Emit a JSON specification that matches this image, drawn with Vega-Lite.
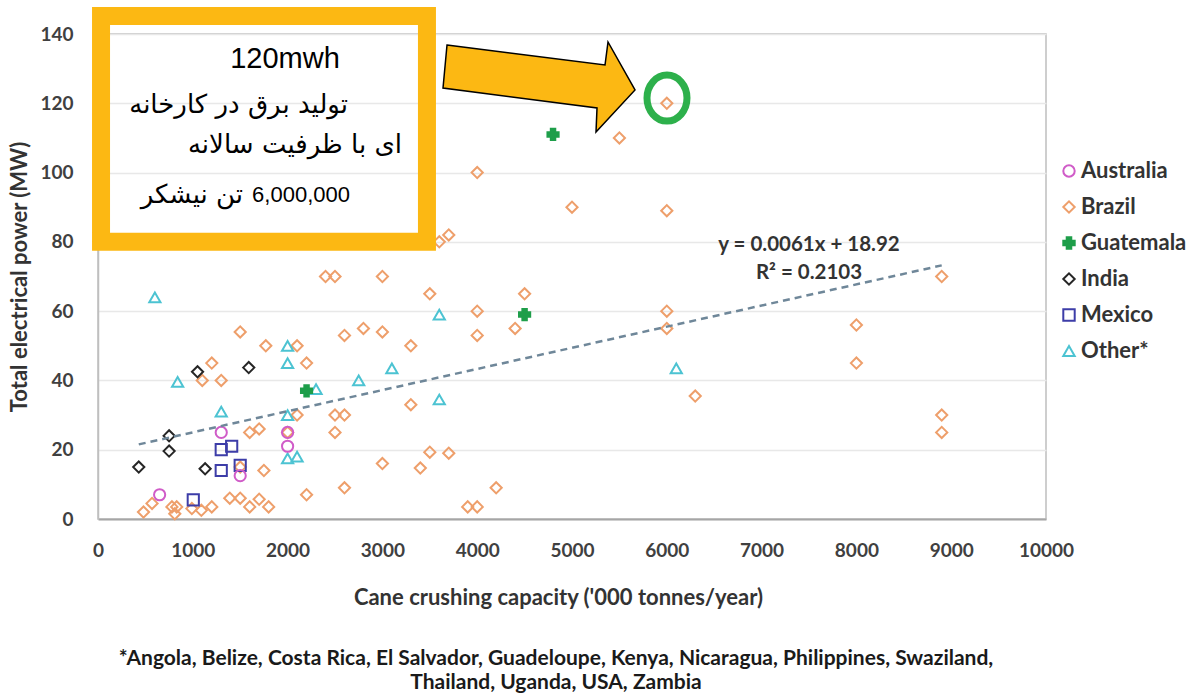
{
  "$schema": "https://vega.github.io/schema/vega-lite/v6.json",
  "width": 948,
  "height": 485,
  "autosize": {"type": "none"},
  "padding": {"left": 98, "top": 34, "right": 149, "bottom": 176},
  "background": "white",
  "title": {
    "text": ["*Angola, Belize, Costa Rica, El Salvador, Guadeloupe, Kenya, Nicaragua, Philippines, Swaziland,", "Thailand, Uganda, USA, Zambia"],
    "orient": "bottom", "anchor": "middle", "font": "Lato", "fontSize": 21, "fontWeight": "bold",
    "color": "#1a1a1a", "lineHeight": 24, "offset": 40, "dx": -16
  },
  "config": {
    "view": {"stroke": "#BFBFBF", "strokeWidth": 1.5},
    "font": "Lato",
    "legend": {
      "orient": "none", "legendX": 960, "legendY": 126, "padding": 0,
      "labelFont": "Lato", "labelFontSize": 22, "labelFontWeight": "bold", "labelColor": "#333333",
      "symbolSize": 130, "symbolStrokeWidth": 2, "rowPadding": 14, "labelOffset": 1
    }
  },
  "encoding": {
    "x": {
      "field": "capacity", "type": "quantitative",
      "scale": {"domain": [0, 10000], "nice": false, "zero": false},
      "axis": {
        "title": "Cane crushing capacity ('000 tonnes/year)",
        "values": [0, 1000, 2000, 3000, 4000, 5000, 6000, 7000, 8000, 9000, 10000],
        "format": "d",
        "grid": false, "ticks": false, "domainColor": "#A6A6A6", "domainWidth": 2,
        "labelFont": "Lato", "labelFontSize": 19, "labelFontWeight": "bold", "labelColor": "#404040",
        "labelPadding": 22, "labelFlush": false, "labelOverlap": false,
        "titleFont": "Lato", "titleFontSize": 22, "titleFontWeight": "bold", "titleColor": "#333333",
        "titlePadding": 27, "titleX": 460
      }
    },
    "y": {
      "field": "power", "type": "quantitative",
      "scale": {"domain": [0, 140], "nice": false, "zero": false},
      "axis": {
        "title": "Total electrical power (MW)",
        "values": [0, 20, 40, 60, 80, 100, 120, 140],
        "grid": true, "gridColor": "#E8E8E8", "gridWidth": 1.5, "ticks": false,
        "domainColor": "#BFBFBF", "domainWidth": 1.5,
        "labelFont": "Lato", "labelFontSize": 19, "labelFontWeight": "bold", "labelColor": "#404040",
        "labelPadding": 25,
        "titleFont": "Lato", "titleFontSize": 22, "titleFontWeight": "bold", "titleColor": "#333333",
        "titlePadding": 8
      }
    }
  },
  "layer": [
    {
      "data": {"values": [
        {"country": "Brazil", "capacity": 480, "power": 2},
        {"country": "Brazil", "capacity": 570, "power": 4.5},
        {"country": "Brazil", "capacity": 780, "power": 3.5},
        {"country": "Brazil", "capacity": 830, "power": 3.5},
        {"country": "Brazil", "capacity": 810, "power": 1.5},
        {"country": "Brazil", "capacity": 990, "power": 3},
        {"country": "Brazil", "capacity": 1090, "power": 2.5},
        {"country": "Brazil", "capacity": 1200, "power": 3.5},
        {"country": "Brazil", "capacity": 1390, "power": 6},
        {"country": "Brazil", "capacity": 1500, "power": 6},
        {"country": "Brazil", "capacity": 1600, "power": 3.5},
        {"country": "Brazil", "capacity": 1700, "power": 5.7},
        {"country": "Brazil", "capacity": 1800, "power": 3.5},
        {"country": "Brazil", "capacity": 1750, "power": 14},
        {"country": "Brazil", "capacity": 1500, "power": 15},
        {"country": "Brazil", "capacity": 1100, "power": 40},
        {"country": "Brazil", "capacity": 1300, "power": 40},
        {"country": "Brazil", "capacity": 1200, "power": 45},
        {"country": "Brazil", "capacity": 1500, "power": 54},
        {"country": "Brazil", "capacity": 1770, "power": 50},
        {"country": "Brazil", "capacity": 1600, "power": 25},
        {"country": "Brazil", "capacity": 1700, "power": 26},
        {"country": "Brazil", "capacity": 2000, "power": 25},
        {"country": "Brazil", "capacity": 2100, "power": 30},
        {"country": "Brazil", "capacity": 2100, "power": 50},
        {"country": "Brazil", "capacity": 2200, "power": 45},
        {"country": "Brazil", "capacity": 2200, "power": 7},
        {"country": "Brazil", "capacity": 2500, "power": 25},
        {"country": "Brazil", "capacity": 2500, "power": 30},
        {"country": "Brazil", "capacity": 2600, "power": 30},
        {"country": "Brazil", "capacity": 2600, "power": 9},
        {"country": "Brazil", "capacity": 2600, "power": 53},
        {"country": "Brazil", "capacity": 2800, "power": 55},
        {"country": "Brazil", "capacity": 3000, "power": 54},
        {"country": "Brazil", "capacity": 3000, "power": 16},
        {"country": "Brazil", "capacity": 3300, "power": 50},
        {"country": "Brazil", "capacity": 3300, "power": 33},
        {"country": "Brazil", "capacity": 3400, "power": 14.7},
        {"country": "Brazil", "capacity": 3500, "power": 19.3},
        {"country": "Brazil", "capacity": 3700, "power": 19},
        {"country": "Brazil", "capacity": 3900, "power": 3.5},
        {"country": "Brazil", "capacity": 4000, "power": 3.5},
        {"country": "Brazil", "capacity": 4200, "power": 9},
        {"country": "Brazil", "capacity": 4000, "power": 53},
        {"country": "Brazil", "capacity": 4000, "power": 60},
        {"country": "Brazil", "capacity": 4400, "power": 55},
        {"country": "Brazil", "capacity": 4500, "power": 65},
        {"country": "Brazil", "capacity": 3500, "power": 65},
        {"country": "Brazil", "capacity": 2400, "power": 70},
        {"country": "Brazil", "capacity": 2500, "power": 70},
        {"country": "Brazil", "capacity": 3000, "power": 70},
        {"country": "Brazil", "capacity": 3600, "power": 80},
        {"country": "Brazil", "capacity": 3700, "power": 82},
        {"country": "Brazil", "capacity": 4000, "power": 100},
        {"country": "Brazil", "capacity": 5000, "power": 90},
        {"country": "Brazil", "capacity": 5500, "power": 110},
        {"country": "Brazil", "capacity": 6000, "power": 120},
        {"country": "Brazil", "capacity": 6000, "power": 89},
        {"country": "Brazil", "capacity": 6000, "power": 60},
        {"country": "Brazil", "capacity": 6000, "power": 55},
        {"country": "Brazil", "capacity": 6300, "power": 35.5},
        {"country": "Brazil", "capacity": 8000, "power": 56},
        {"country": "Brazil", "capacity": 8000, "power": 45},
        {"country": "Brazil", "capacity": 8900, "power": 70},
        {"country": "Brazil", "capacity": 8900, "power": 30},
        {"country": "Brazil", "capacity": 8900, "power": 25},
        {"country": "Other*", "capacity": 600, "power": 64},
        {"country": "Other*", "capacity": 840, "power": 39.6},
        {"country": "Other*", "capacity": 1300, "power": 31},
        {"country": "Other*", "capacity": 2000, "power": 50},
        {"country": "Other*", "capacity": 2000, "power": 45},
        {"country": "Other*", "capacity": 2000, "power": 30},
        {"country": "Other*", "capacity": 2000, "power": 17.5},
        {"country": "Other*", "capacity": 2100, "power": 18},
        {"country": "Other*", "capacity": 2300, "power": 37.5},
        {"country": "Other*", "capacity": 2750, "power": 40},
        {"country": "Other*", "capacity": 3100, "power": 43.5},
        {"country": "Other*", "capacity": 3600, "power": 59},
        {"country": "Other*", "capacity": 3600, "power": 34.5},
        {"country": "Other*", "capacity": 6100, "power": 43.5},
        {"country": "India", "capacity": 430, "power": 15},
        {"country": "India", "capacity": 750, "power": 24},
        {"country": "India", "capacity": 750, "power": 19.6},
        {"country": "India", "capacity": 1130, "power": 14.5},
        {"country": "India", "capacity": 1050, "power": 42.5},
        {"country": "India", "capacity": 1590, "power": 43.7},
        {"country": "Mexico", "capacity": 1005, "power": 5.5},
        {"country": "Mexico", "capacity": 1300, "power": 20},
        {"country": "Mexico", "capacity": 1410, "power": 21},
        {"country": "Mexico", "capacity": 1300, "power": 14},
        {"country": "Mexico", "capacity": 1500, "power": 15.5},
        {"country": "Australia", "capacity": 650, "power": 7},
        {"country": "Australia", "capacity": 1300, "power": 25},
        {"country": "Australia", "capacity": 1500, "power": 12.5},
        {"country": "Australia", "capacity": 2000, "power": 21},
        {"country": "Australia", "capacity": 2000, "power": 25},
        {"country": "Guatemala", "capacity": 2200, "power": 37},
        {"country": "Guatemala", "capacity": 4500, "power": 59},
        {"country": "Guatemala", "capacity": 4800, "power": 111}
      ]},
      "mark": {"type": "point", "filled": false, "size": 125, "strokeWidth": 2, "opacity": 1, "fillOpacity": 1},
      "encoding": {
        "stroke": {
          "field": "country", "type": "nominal",
          "scale": {"domain": ["Australia", "Brazil", "Guatemala", "India", "Mexico", "Other*"],
                    "range": ["#D05CC8", "#EE9F6B", "#1E9E4A", "#262626", "#3D3DA8", "#4CC3D2"]},
          "legend": {"title": null}
        },
        "fill": {
          "field": "country", "type": "nominal",
          "scale": {"domain": ["Australia", "Brazil", "Guatemala", "India", "Mexico", "Other*"],
                    "range": ["transparent", "transparent", "#1E9E4A", "transparent", "transparent", "transparent"]},
          "legend": {"title": null}
        },
        "shape": {
          "field": "country", "type": "nominal",
          "scale": {"domain": ["Australia", "Brazil", "Guatemala", "India", "Mexico", "Other*"],
                    "range": ["circle", "diamond", "cross", "diamond", "square", "triangle-up"]},
          "legend": {"title": null}
        }
      }
    },
    {
      "data": {"values": [
        {"capacity": 430, "power": 21.54},
        {"capacity": 8900, "power": 73.21}
      ]},
      "mark": {"type": "line", "color": "#6F8799", "strokeWidth": 2.5, "strokeDash": [7, 5]},
      "encoding": {}
    },
    {
      "data": {"values": [
        {"capacity": 7500, "power": 79.1, "label": "y = 0.0061x + 18.92"},
        {"capacity": 7500, "power": 71, "label": "R² = 0.2103"}
      ]},
      "mark": {"type": "text", "font": "Lato", "fontSize": 20.5, "fontWeight": "bold", "color": "#333333", "align": "center", "baseline": "middle"},
      "encoding": {"text": {"field": "label"}}
    },
    {
      "data": {"values": [
        {"capacity": 32, "capacity2": 3470, "power": 80, "power2": 145.2}
      ]},
      "mark": {"type": "rect", "filled": false, "stroke": "#FCB813", "strokeWidth": 18, "fill": null, "clip": false},
      "encoding": {
        "x2": {"field": "capacity2"},
        "y2": {"field": "power2"}
      }
    },
    {
      "data": {"values": [{"capacity": 4652, "power": 124.7}]},
      "mark": {"type": "point", "shape": "M-0.92,-0.42L0.66,-0.22L0.69,-0.45L0.96,0.03L0.57,0.45L0.58,0.21L-0.96,0.01Z",
               "size": 40000, "filled": true, "fill": "#FCB813", "stroke": "#000000", "strokeWidth": 1.5, "opacity": 1, "clip": false}
    },
    {
      "data": {"values": [{"capacity": 6002, "power": 121.5}]},
      "mark": {"type": "point", "shape": "M0,-0.23C0.11,-0.23 0.2,-0.127 0.2,0C0.2,0.127 0.11,0.23 0,0.23C-0.11,0.23 -0.2,0.127 -0.2,0C-0.2,-0.127 -0.11,-0.23 0,-0.23Z",
               "size": 40000, "filled": false, "stroke": "#2DB04B", "strokeWidth": 7, "opacity": 1, "clip": false}
    },
    {
      "data": {"values": [{"capacity": 1973, "power": 132.8, "label": "120mwh"}]},
      "mark": {"type": "text", "font": "Liberation Sans", "fontSize": 29, "color": "#000000", "align": "center", "baseline": "middle"},
      "encoding": {"text": {"field": "label"}}
    },
    {
      "data": {"values": [
        {"capacity": 2637, "power": 119.5, "label": "تولید  برق  در  کارخانه"},
        {"capacity": 3207, "power": 108, "label": "ای با ظرفیت سالانه"},
        {"capacity": 1530, "power": 93.5, "label": "تن نیشکر"}
      ]},
      "mark": {"type": "text", "font": "DejaVu Sans", "fontSize": 26, "color": "#000000", "align": "right", "baseline": "middle"},
      "encoding": {"text": {"field": "label"}}
    },
    {
      "data": {"values": [{"capacity": 2658, "power": 93.5, "label": "6,000,000"}]},
      "mark": {"type": "text", "font": "Liberation Sans", "fontSize": 22, "color": "#000000", "align": "right", "baseline": "middle"},
      "encoding": {"text": {"field": "label"}}
    }
  ]
}
